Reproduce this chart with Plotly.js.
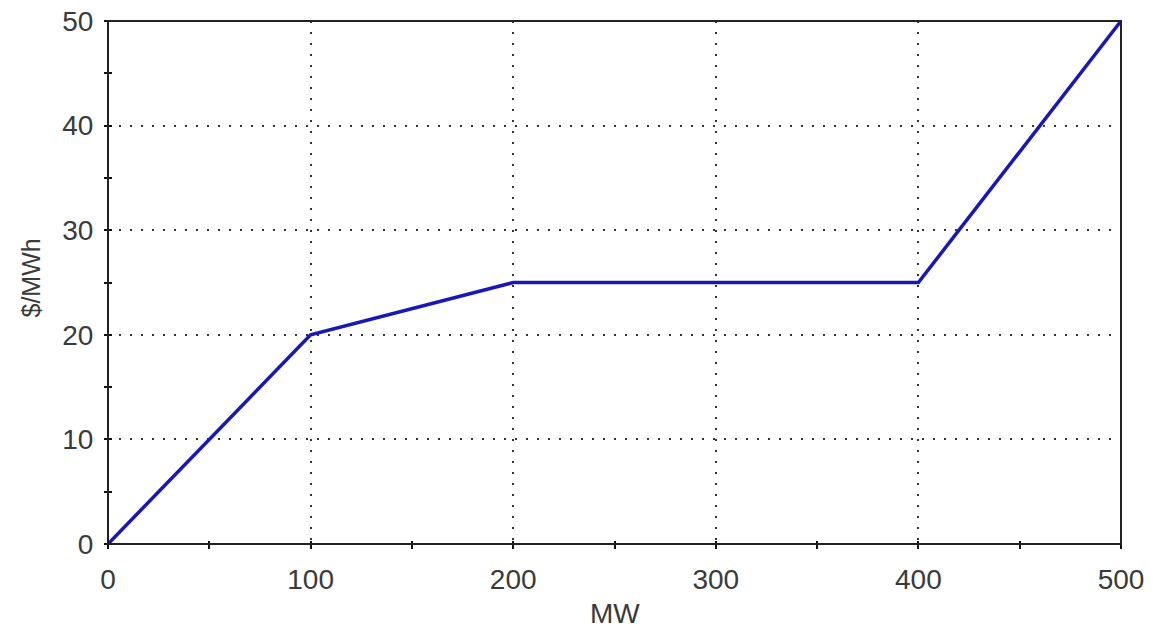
<!DOCTYPE html>
<html>
<head>
<meta charset="utf-8">
<script src="https://cdn.plot.ly/plotly-3.0.1.min.js"></script>
<style>html,body{margin:0;padding:0;background:#fff;}#chart{width:1153px;height:631px;}</style>
</head>
<body>
<div id="chart"></div>
<script>
const mw = [0, 100, 200, 400, 500];
const price = [0, 20, 25, 25, 50];
const xTicks = [0, 100, 200, 300, 400, 500];
const yTicks = [0, 10, 20, 30, 40, 50];
const xTitle = 'MW';
const yTitle = '$/MWh';

const font = {family: 'Liberation Sans, Arial, sans-serif', size: 28, color: '#3a3a3a'};

const traces = [
  {x: mw, y: price, type: 'scatter', mode: 'lines', line: {color: '#1818b8', width: 3.5}, hoverinfo: 'skip', showlegend: false, cliponaxis: false}
];

const tickStyle = {ticklen: 8, tickwidth: 2, tickcolor: '#111'};
const plotW = 1153 - 108 - 32, plotH = 631 - 21 - 87;

const layout = {
  width: 1153, height: 631,
  margin: {l: 108, r: 32, t: 21, b: 87},
  paper_bgcolor: '#fff', plot_bgcolor: '#fff',
  font: font,
  showlegend: false,
  xaxis: Object.assign({
    range: [0, 500], tickvals: xTicks, ticktext: xTicks.map(String),
    anchor: 'free', position: 4 / plotH,
    showline: false, zeroline: false,
    ticks: 'outside',
    minor: Object.assign({dtick: 50, tick0: 0, ticks: 'outside', showgrid: false}, tickStyle),
    showgrid: true, gridcolor: '#333', gridwidth: 2, griddash: '2px,9px',
    ticklabelstandoff: 6,
    tickfont: font, automargin: false
  }, tickStyle),
  yaxis: Object.assign({
    range: [0, 50], tickvals: yTicks, ticktext: yTicks.map(String),
    anchor: 'free', position: 4 / plotW,
    showline: false, zeroline: false,
    ticks: 'outside',
    minor: Object.assign({dtick: 5, tick0: 0, ticks: 'outside', showgrid: false}, tickStyle),
    showgrid: true, gridcolor: '#333', gridwidth: 2, griddash: '2px,9px',
    ticklabelstandoff: 5,
    tickfont: font, automargin: false
  }, tickStyle),
  shapes: [
    {type: 'rect', xref: 'paper', yref: 'paper', x0: 0, x1: 1, y0: 0, y1: 1,
     line: {color: '#222', width: 2}, fillcolor: 'rgba(0,0,0,0)', layer: 'above'}
  ],
  annotations: [
    {text: xTitle, xref: 'paper', yref: 'paper', x: 0.5, y: 0, yshift: -69, xanchor: 'center', yanchor: 'middle',
     showarrow: false, font: font},
    {text: yTitle, xref: 'paper', yref: 'paper', x: 0, y: 0.5, xshift: -78, yshift: 4, xanchor: 'center', yanchor: 'middle',
     textangle: -90, showarrow: false, font: Object.assign({}, font, {size: 25})}
  ]
};

Plotly.newPlot('chart', traces, layout, {displayModeBar: false, staticPlot: true});
</script>
</body>
</html>
